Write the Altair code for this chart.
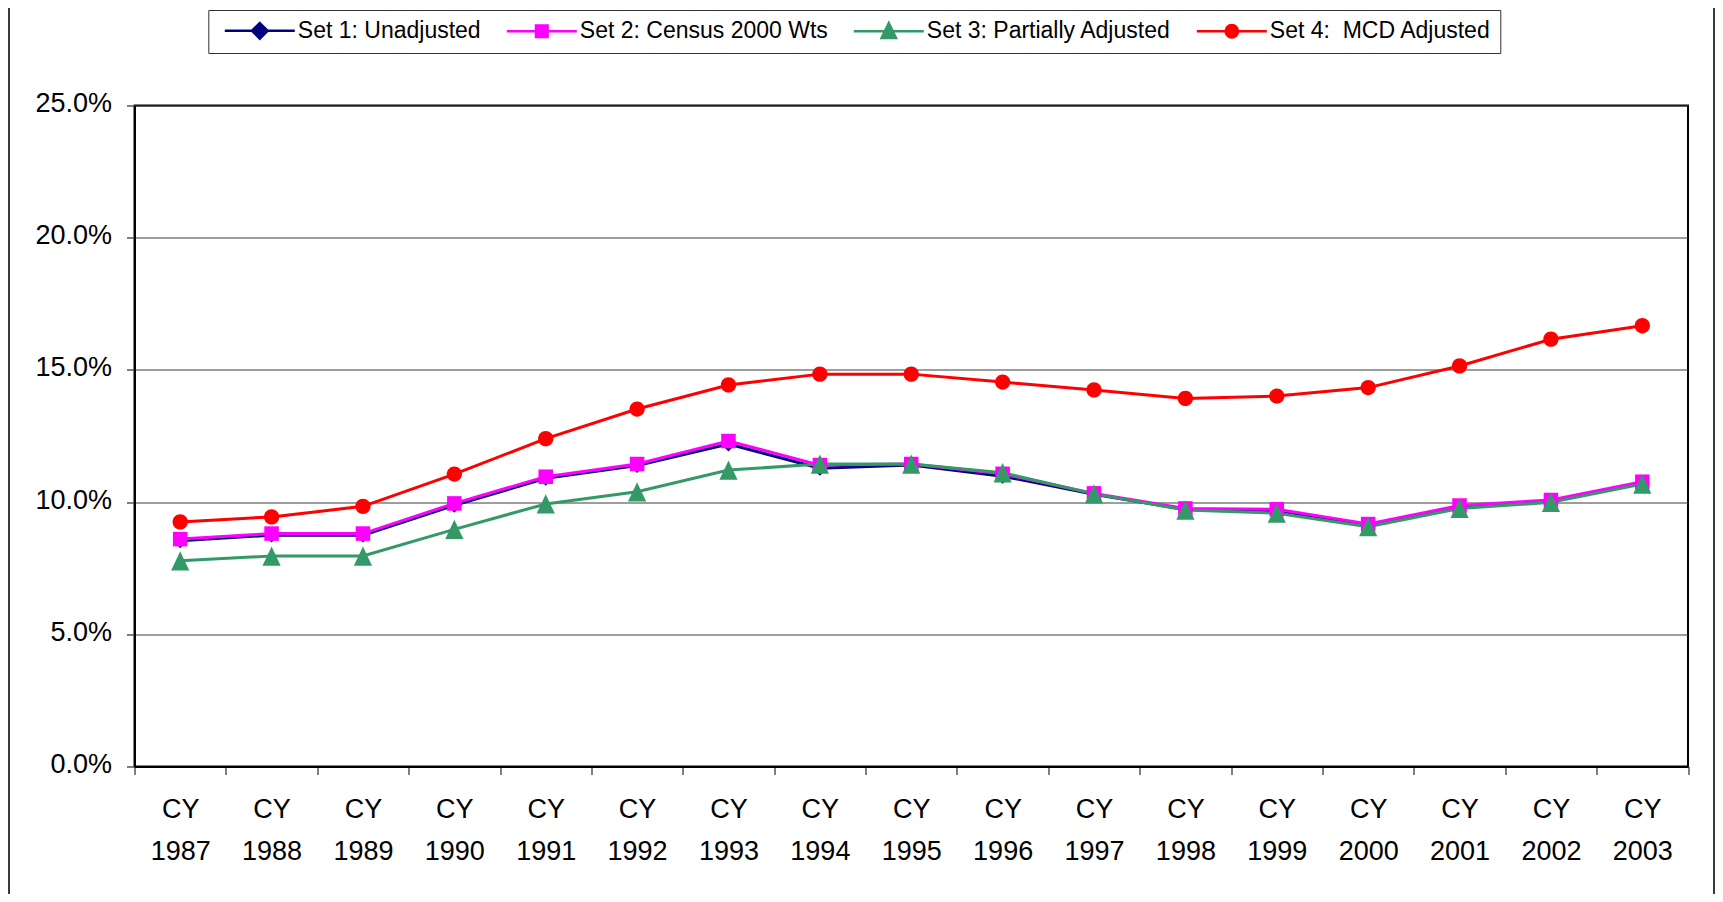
import altair as alt
import pandas as pd

# ---- data (percent) ----
years = ["1987", "1988", "1989", "1990", "1991", "1992", "1993", "1994", "1995",
         "1996", "1997", "1998", "1999", "2000", "2001", "2002", "2003"]

series_names = ["Set 1: Unadjusted", "Set 2: Census 2000 Wts",
                "Set 3: Partially Adjusted", "Set 4:\u00a0 MCD Adjusted"]

set1 = [8.54, 8.75, 8.75, 9.88, 10.90, 11.38, 12.20, 11.28, 11.40, 10.98, 10.30,
        9.72, 9.68, 9.12, 9.82, 10.03, 10.72]
set2 = [8.60, 8.81, 8.81, 9.95, 10.96, 11.44, 12.31, 11.40, 11.44, 11.07, 10.33,
        9.76, 9.73, 9.17, 9.87, 10.08, 10.77]
set3 = [7.78, 7.96, 7.96, 8.97, 9.93, 10.39, 11.21, 11.44, 11.44, 11.11, 10.31,
        9.70, 9.58, 9.07, 9.76, 9.99, 10.68]
set4 = [9.25, 9.44, 9.84, 11.06, 12.40, 13.52, 14.43, 14.84, 14.84, 14.54, 14.24,
        13.92, 14.01, 14.33, 15.15, 16.16, 16.67]

y_ticks = [0, 0.05, 0.10, 0.15, 0.20, 0.25]

colors = ["#000080", "#FF00FF", "#339966", "#FF0000"]

# marker shapes in the plot (unit square scaled by mark size)
plot_shapes = [
    "M0,-0.82L0.82,0L0,0.82L-0.82,0Z",
    "M-0.8,-0.8H0.8V0.8H-0.8Z",
    "M0,-1.06L1,1.06L-1,1.06Z",
    "M0.84,0A0.84,0.84,0,1,1,-0.84,0A0.84,0.84,0,1,1,0.84,0Z",
]

# legend symbols: line segment plus marker (unit = 10px at symbol size 400)
legend_shapes = [
    "M-3.5,0H3.5M0,-0.78L0.78,0L0,0.78L-0.78,0Z",
    "M-3.5,0H3.5M-0.58,-0.58H0.58V0.58H-0.58Z",
    "M-3.5,0H3.5M0,-0.82L0.72,0.68L-0.72,0.68Z",
    "M-3.5,0H3.5M0.62,0A0.62,0.62,0,1,1,-0.62,0A0.62,0.62,0,1,1,0.62,0Z",
]

rows = []
for name, vals in zip(series_names, [set1, set2, set3, set4]):
    for yr, v in zip(years, vals):
        rows.append({"year": yr, "series": name, "value": v / 100.0})
df = pd.DataFrame(rows)

FONT = "Liberation Sans, Arial, sans-serif"


def index_expr(values):
    parts = [f"datum.index === {i} ? '{values[i]}' : " for i in range(3)]
    return "".join(parts) + f"'{values[3]}'"


x_enc = alt.X(
    "year:N",
    sort=years,
    scale=alt.Scale(type="band", paddingInner=0, paddingOuter=0),
    axis=alt.Axis(
        title=None,
        labelExpr="datum.label ? ['CY', datum.label] : ''",
        labelAngle=0,
        labelFont=FONT,
        labelFontSize=27,
        labelColor="black",
        labelLineHeight=42,
        labelPadding=22,
        labelBaseline="top",
        labelOverlap=False,
        tickBand="extent",
        tickSize=8,
        tickColor="#555555",
        tickWidth=1.5,
        domainColor="black",
        domainWidth=2,
        grid=False,
    ),
)

y_enc = alt.Y(
    "value:Q",
    scale=alt.Scale(domain=[0, 0.25], nice=False, zero=True),
    axis=alt.Axis(
        title=None,
        values=y_ticks,
        format=".1%",
        labelFont=FONT,
        labelFontSize=27,
        labelColor="black",
        labelPadding=15,
        labelOffset=-2,
        tickSize=8,
        tickColor="#555555",
        tickWidth=1.5,
        domainColor="black",
        domainWidth=2,
        grid=True,
        gridColor="#3d3d3d",
        gridWidth=1,
    ),
)

color_scale = alt.Scale(domain=series_names, range=colors)

legend = alt.Legend(
    title=None,
    orient="none",
    legendX=73.8,
    legendY=-95.5,
    direction="horizontal",
    columns=4,
    gridAlign="each",
    columnPadding=18,
    padding=9,
    symbolOffset=31,
    labelOffset=26.5,
    labelFont=FONT,
    labelFontSize=23,
    labelColor="black",
    labelLimit=0,
    symbolSize=400,
    symbolStrokeWidth=2.5,
    symbolOpacity=1,
    symbolType=alt.ExprRef(expr=index_expr(legend_shapes)),
    symbolStrokeColor=alt.ExprRef(expr=index_expr(colors)),
    symbolFillColor=alt.ExprRef(expr=index_expr(colors)),
    strokeColor="#333333",
    fillColor="white",
)

base = alt.Chart(df)

lines = base.mark_line(strokeWidth=3).encode(
    x=x_enc,
    y=y_enc,
    color=alt.Color("series:N", sort=series_names, scale=color_scale),
)

point_layers = []
for i, (name, shape) in enumerate(zip(series_names, plot_shapes)):
    pl = (
        base.transform_filter(alt.datum.series == name)
        .mark_point(filled=True, size=330, opacity=1, strokeWidth=2.5, shape=shape)
        .encode(
            x=x_enc,
            y=y_enc,
            color=alt.Color("series:N", sort=series_names, scale=color_scale,
                            legend=legend if i == 0 else alt.Undefined),
        )
    )
    point_layers.append(pl)

frame_df = pd.DataFrame({"k": [0]})
frame_left = alt.Chart(frame_df).mark_rule(color="#3a3a3a", strokeWidth=2).encode(
    x=alt.value(-125.5), y=alt.value(-97.5), y2=alt.value(788.5)
)
frame_right = alt.Chart(frame_df).mark_rule(color="#3a3a3a", strokeWidth=2).encode(
    x=alt.value(1579.5), y=alt.value(-97.5), y2=alt.value(788.5)
)

chart = (
    alt.layer(lines, *point_layers, frame_left, frame_right)
    .properties(
        width=1553.5,
        height=661,
        padding={"left": 126.5, "top": 97.5, "right": 27, "bottom": 127.5},
        autosize=alt.AutoSizeParams(type="none"),
        background="white",
    )
    .configure_view(stroke="black", strokeWidth=2)
)

chart.save("out.html", embed_options={"renderer": "svg", "actions": False})
